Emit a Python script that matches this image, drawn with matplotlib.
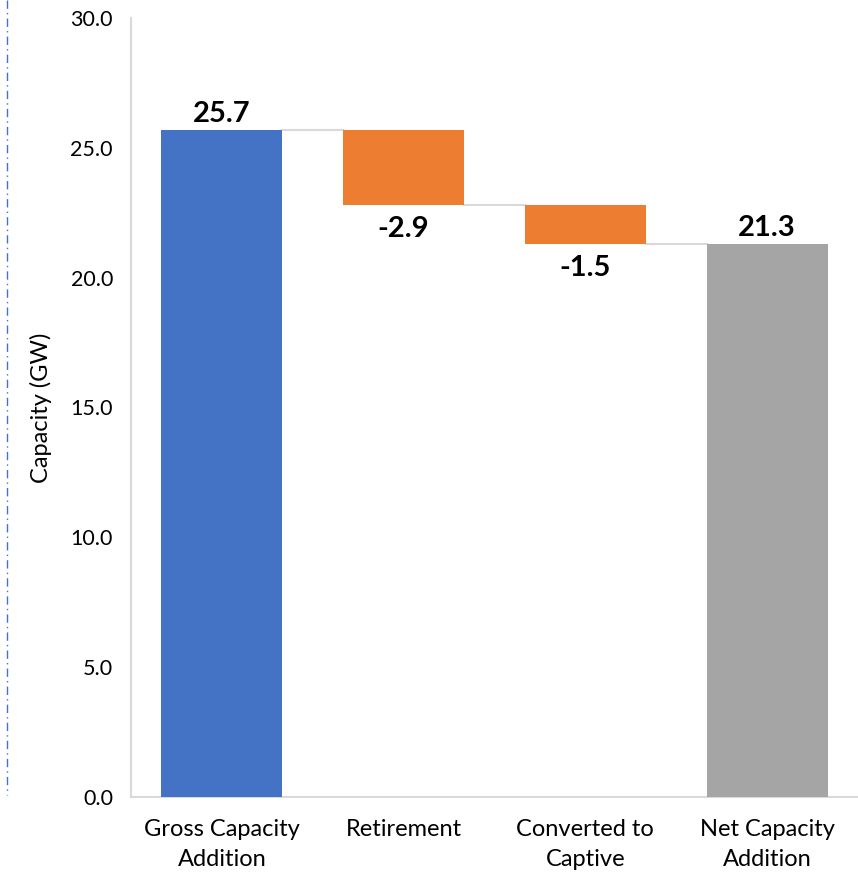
import matplotlib.pyplot as plt
from matplotlib.lines import Line2D

# Waterfall data (GW)
categories = ["Gross Capacity\nAddition", "Retirement", "Converted to\nCaptive", "Net Capacity\nAddition"]
changes = [25.7, -2.9, -1.5, 21.3]
labels = ["25.7", "-2.9", "-1.5", "21.3"]
kinds = ["total", "delta", "delta", "total"]
colors = {"total_first": "#4472C4", "delta": "#ED7D31", "total_last": "#A5A5A5"}

y_ticks = [0, 5, 10, 15, 20, 25, 30]

plt.rcParams["font.family"] = ["Lato", "DejaVu Sans"]

fig = plt.figure(figsize=(8.58, 8.75), dpi=100)
ax = fig.add_axes([131 / 858, 1 - 797 / 875, 727 / 858, 779 / 875])

# compute bottoms / tops
bottoms = []
heights = []
running = 0.0
for i, (v, k) in enumerate(zip(changes, kinds)):
    if k == "total":
        bottoms.append(0.0)
        heights.append(v)
        running = v
    else:
        bottoms.append(running + v)
        heights.append(-v)
        running = running + v

bar_colors = [colors["total_first"], colors["delta"], colors["delta"], colors["total_last"]]
width = 0.667
x = list(range(len(categories)))
ax.bar(x, heights, bottom=bottoms, width=width, color=bar_colors, zorder=3)

# connectors
levels = []
running = 0.0
for v, k in zip(changes, kinds):
    running = v if k == "total" else running + v
    levels.append(running)
for i in range(len(x) - 1):
    ax.plot([x[i] + width / 2, x[i + 1] - width / 2], [levels[i], levels[i]],
            color="#D9D9D9", linewidth=1.5, zorder=2)

# data labels
for i, (v, k) in enumerate(zip(changes, kinds)):
    if v >= 0:
        ax.annotate(labels[i], (x[i], bottoms[i] + heights[i]), xytext=(0, 2),
                    textcoords="offset points", ha="center", va="bottom",
                    fontsize=21, fontweight="bold")
    else:
        ax.annotate(labels[i], (x[i], bottoms[i]), xytext=(0, -8),
                    textcoords="offset points", ha="center", va="top",
                    fontsize=21, fontweight="bold")

ax.set_xlim(-0.5, 3.5)
ax.set_ylim(0, 30)
ax.set_yticks(y_ticks)
ax.set_yticklabels([f"{t:.1f}" for t in y_ticks])
ax.set_xticks(x)
ax.set_xticklabels(categories, linespacing=1.5)
ax.tick_params(axis="y", length=0, pad=13, labelsize=15.5)
ax.tick_params(axis="x", length=0, pad=16, labelsize=17)
ax.set_ylabel("Capacity (GW)", fontsize=17)
ax.yaxis.set_label_coords(-79 / 727, 0.5)

for s in ["top", "right"]:
    ax.spines[s].set_visible(False)
for s in ["left", "bottom"]:
    ax.spines[s].set_color("#D9D9D9")
    ax.spines[s].set_linewidth(1.5)

# dash-dot border line at left
fig.add_artist(Line2D([7 / 858, 7 / 858], [1.0, 1 - 795 / 875], color="#4472C4",
                      linewidth=1, linestyle=(0, (6, 3, 1, 3))))

plt.savefig("out.png", dpi=100)
